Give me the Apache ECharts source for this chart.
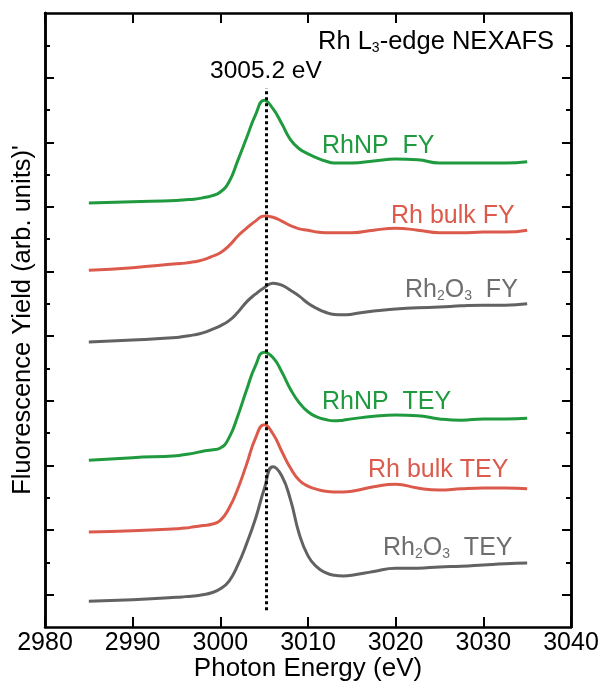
<!DOCTYPE html>
<html>
<head>
<meta charset="utf-8">
<script src="https://cdn.jsdelivr.net/npm/echarts@6/dist/echarts.min.js"></script>
<style>html,body{margin:0;padding:0;background:#fff}#c{width:605px;height:682px}</style>
</head>
<body>
<div id="c"></div>
<script>
const energy = [2985, 2990, 2995, 2996, 2997, 2998, 2999, 3000, 3001, 3002, 3003, 3004, 3005, 3006, 3007, 3008, 3009, 3010, 3011, 3012, 3013, 3014, 3015, 3017.5, 3020, 3022.5, 3025, 3027.5, 3030, 3032.5, 3035];
const rhnpFY   = [6.06, 6.08, 6.10, 6.11, 6.12, 6.14, 6.17, 6.23, 6.39, 6.72, 7.07, 7.42, 7.65, 7.52, 7.29, 7.04, 6.90, 6.82, 6.76, 6.71, 6.68, 6.68, 6.68, 6.71, 6.74, 6.73, 6.68, 6.68, 6.68, 6.68, 6.70];
const rhBulkFY = [5.02, 5.06, 5.12, 5.13, 5.15, 5.18, 5.23, 5.29, 5.40, 5.55, 5.67, 5.78, 5.86, 5.84, 5.78, 5.71, 5.66, 5.64, 5.61, 5.60, 5.60, 5.60, 5.60, 5.64, 5.67, 5.64, 5.60, 5.60, 5.61, 5.61, 5.64];
const rh2o3FY  = [3.91, 3.94, 3.98, 4.00, 4.02, 4.05, 4.10, 4.16, 4.24, 4.37, 4.53, 4.65, 4.75, 4.82, 4.79, 4.71, 4.62, 4.51, 4.43, 4.37, 4.335, 4.33, 4.34, 4.39, 4.42, 4.44, 4.45, 4.47, 4.48, 4.48, 4.50];
const rhnpTEY  = [2.08, 2.12, 2.15, 2.17, 2.19, 2.22, 2.24, 2.27, 2.43, 2.77, 3.17, 3.54, 3.75, 3.67, 3.45, 3.18, 2.97, 2.83, 2.75, 2.71, 2.69, 2.70, 2.72, 2.76, 2.78, 2.77, 2.72, 2.70, 2.72, 2.72, 2.73];
const rhBulkTEY= [0.97, 0.99, 1.02, 1.03, 1.05, 1.07, 1.09, 1.15, 1.34, 1.64, 2.02, 2.42, 2.63, 2.49, 2.22, 1.96, 1.77, 1.68, 1.63, 1.60, 1.59, 1.59, 1.60, 1.67, 1.71, 1.65, 1.62, 1.64, 1.65, 1.65, 1.64];
const rh2o3TEY = [-0.10, -0.08, -0.04, -0.03, -0.02, 0.00, 0.03, 0.09, 0.21, 0.46, 0.79, 1.17, 1.63, 1.98, 1.84, 1.47, 0.94, 0.60, 0.43, 0.34, 0.30, 0.29, 0.30, 0.36, 0.41, 0.41, 0.43, 0.44, 0.46, 0.48, 0.49];

const xTicks = [2980, 2990, 3000, 3010, 3020, 3030, 3040];
const yMajorTicks = [0, 1, 2, 3, 4, 5, 6, 7, 8];
const yMinorTicks = [0.5, 1.5, 2.5, 3.5, 4.5, 5.5, 6.5, 7.5, 8.5];
const peakEnergy = 3005.2;
const peakLineRange = [-0.24, 7.84];

const GREEN = '#1f9a3e', RED = '#dc5a4c', GRAY = '#626262', GRAYTXT = '#6e6e6e';
const FONT = '"Liberation Sans", Arial, sans-serif';

function pairs(vals) { return energy.map((e, i) => [e, vals[i]]); }
function line(name, vals, color, extra) {
  return Object.assign({
    name, type: 'line', data: pairs(vals), showSymbol: false, smooth: 0.5,
    lineStyle: { width: 3, color }, itemStyle: { color }, z: 3, silent: true
  }, extra || {});
}

const chart = echarts.init(document.getElementById('c'), null, { renderer: 'canvas' });

const yBase = { type: 'value', min: -0.5, max: 9, splitLine: { show: false }, axisLabel: { show: false },
  axisLine: { show: true, lineStyle: { color: '#000', width: 2.5 } } };
const xBase = { type: 'value', min: xTicks[0], max: xTicks[xTicks.length - 1], interval: 10, splitLine: { show: false },
  axisLine: { show: true, onZero: false, lineStyle: { color: '#000', width: 2.5 } },
  axisTick: { inside: true, length: 10, lineStyle: { color: '#000', width: 2 } } };

const sub = { fontSize: 14, fontFamily: FONT, verticalAlign: 'bottom', lineHeight: 16, padding: [0, 0, 1, 0] };

function label(x, y, parts, color, size) {
  size = size || 25;
  return { type: 'text', left: x, top: y, z: 10, style: {
    rich: { m: { fontSize: size, fontFamily: FONT, fill: color, lineHeight: 28 },
            s: Object.assign({}, sub, { fill: color }) },
    text: parts, fill: color, fontSize: size, fontFamily: FONT } };
}

chart.setOption({
  animation: false,
  backgroundColor: '#fff',
  textStyle: { fontFamily: FONT },
  grid: { left: 45, right: 34, top: 13, bottom: 55, outerBoundsMode: 'none', containLabel: false },
  xAxis: [
    Object.assign({}, xBase, { position: 'bottom',
      name: 'Photon Energy (eV)', nameLocation: 'middle', nameGap: 29, nameMoveOverlap: false,
      nameTextStyle: { fontSize: 26, color: '#000', fontFamily: FONT },
      axisLabel: { fontSize: 25, color: '#000', margin: 4, fontFamily: FONT, formatter: v => String(v) } }),
    Object.assign({}, xBase, { position: 'top', axisLabel: { show: false } })
  ],
  yAxis: [
    Object.assign({}, yBase, { position: 'left',
      name: "Fluorescence Yield (arb. units)'", nameLocation: 'middle', nameGap: 9, nameMoveOverlap: false,
      nameTextStyle: { fontSize: 25.5, color: '#000', fontFamily: FONT },
      axisTick: { inside: true, length: 9, customValues: yMajorTicks, lineStyle: { color: '#000', width: 2 } } }),
    Object.assign({}, yBase, { position: 'left',
      axisTick: { inside: true, length: 5, customValues: yMinorTicks, lineStyle: { color: '#000', width: 2 } } }),
    Object.assign({}, yBase, { position: 'right',
      axisTick: { inside: true, length: 9, customValues: yMajorTicks, lineStyle: { color: '#000', width: 2 } } }),
    Object.assign({}, yBase, { position: 'right',
      axisTick: { inside: true, length: 5, customValues: yMinorTicks, lineStyle: { color: '#000', width: 2 } } })
  ],
  series: [
    line('RhNP FY', rhnpFY, GREEN, {
      markLine: { silent: true, symbol: 'none', z: 5,
        lineStyle: { type: [3, 3], width: 3, color: '#000' },
        label: { show: true, position: 'end', formatter: '3005.2 eV', fontSize: 24.5, color: '#000', distance: 4, fontFamily: FONT },
        data: [[{ coord: [peakEnergy, peakLineRange[0]] }, { coord: [peakEnergy, peakLineRange[1]] }]] } }),
    line('Rh bulk FY', rhBulkFY, RED),
    line('Rh2O3 FY', rh2o3FY, GRAY),
    line('RhNP TEY', rhnpTEY, GREEN),
    line('Rh bulk TEY', rhBulkTEY, RED),
    line('Rh2O3 TEY', rh2o3TEY, GRAY)
  ],
  graphic: [
    label(318, 29, '{m|Rh L}{s|3}{m|-edge NEXAFS}', '#000', 25.5),
    label(322, 134, '{m|RhNP  FY}', GREEN),
    label(391, 204, '{m|Rh bulk FY}', RED),
    label(405, 278, '{m|Rh}{s|2}{m|O}{s|3}{m|  FY}', GRAYTXT),
    label(322, 390, '{m|RhNP  TEY}', GREEN),
    label(368, 458, '{m|Rh bulk TEY}', RED),
    label(383, 536, '{m|Rh}{s|2}{m|O}{s|3}{m|  TEY}', GRAYTXT)
  ]
});
</script>
</body>
</html>
